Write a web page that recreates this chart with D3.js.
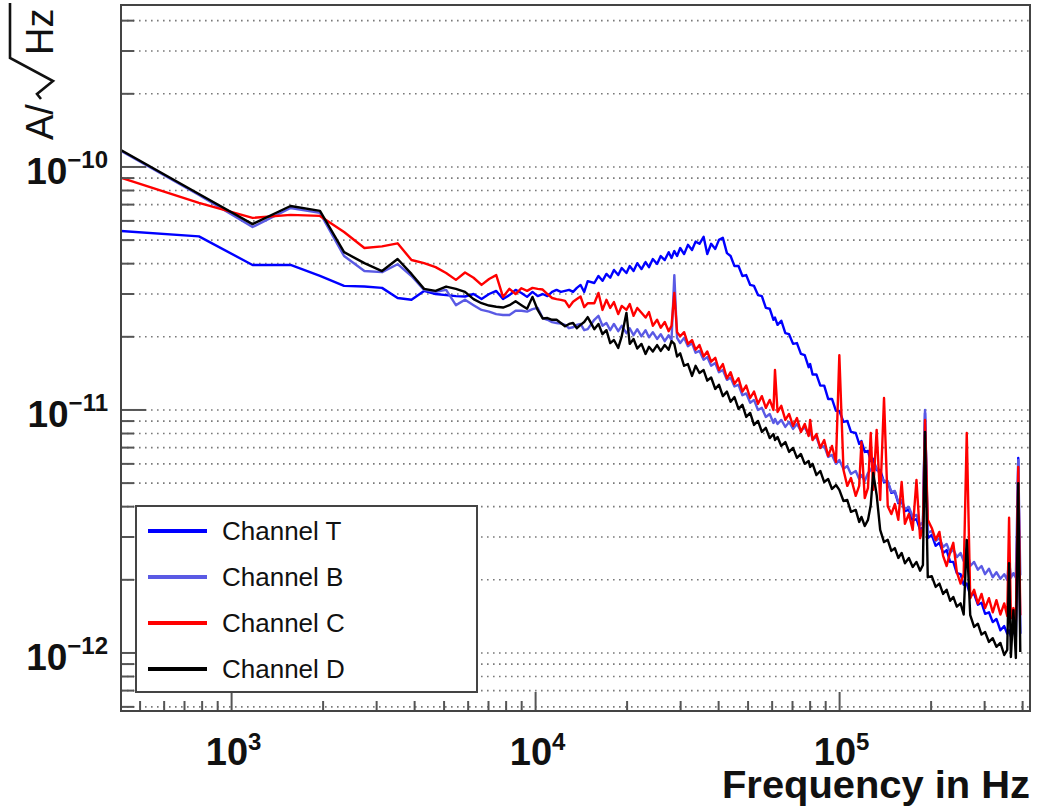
<!DOCTYPE html>
<meta charset="utf-8">
<style>
body { margin: 0; background: #fff; }
text { font-family: "Liberation Sans", Arial, Helvetica, sans-serif; fill: #111; }
</style>
<body>
<script src="https://d3js.org/d3.v7.min.js"></script>
<script>
// frequency of each point, in kHz
var freqKHz = [
  0.391, 0.781, 1.172, 1.563, 1.953, 2.344, 2.734, 3.125, 3.516, 3.906,
  4.297, 4.688, 5.078, 5.469, 5.859, 6.25, 6.641, 7.031, 7.422, 7.813,
  8.203, 8.594, 8.984, 9.375, 9.766, 10.16, 10.55, 10.94, 11.33, 11.72,
  12.11, 12.5, 12.89, 13.28, 13.67, 14.06, 14.45, 14.84,
  15.6, 16.1, 16.6, 17.1, 17.6, 18.1, 18.7, 19.2,
  19.9, 20.4, 21.0, 21.6, 22.3, 23.0, 23.6, 24.3, 25.1,
  25.8, 26.6, 27.4, 28.0, 28.6, 29.2, 29.9, 30.8, 31.7, 32.7,
  33.6, 34.6, 35.7, 36.7, 37.8, 39.0, 40.1, 41.3, 42.6, 43.8,
  45.1, 46.5, 47.9, 49.3, 50.8, 52.3, 53.9, 55.5, 57.2, 58.9,
  60.6, 61.3, 62.5, 64.3, 66.3, 68.2, 70.3, 72.4, 74.6, 76.8,
  79.1, 80.0, 81.5, 83.9, 86.4, 89.0, 91.7, 94.4, 97.3, 99.8,
  103, 106, 109, 113, 116, 118, 121, 124, 126.6, 129,
  132.4, 136, 140, 144, 148, 152, 156, 160, 164, 169,
  174, 179, 184, 188, 191, 195, 201, 207, 213, 219,
  225, 231, 236.6, 243, 250, 256, 262, 269, 277, 285,
  293, 301, 310, 319, 328, 338, 348, 356, 361, 366,
  373, 380, 387, 393
];

// amplitude spectral density, in units of 1e-12 A/sqrt(Hz)
var channelT = [
  55.0, 51.8, 39.5, 39.5, 35.6, 32.4, 32.2, 31.8, 28.9, 28.4,
  30.9, 30.0, 29.7, 29.4, 29.3, 30.0, 28.6, 30.0, 30.9, 28.6,
  29.7, 31.2, 30.3, 29.2, 30.6, 29.4, 30.0, 29.4, 30.6, 31.2,
  30.6, 30.9, 31.2, 30.6, 31.8, 32.7, 30.6, 33.9,
  33.3, 35.6, 34.0, 36.3, 35.0, 37.7, 35.9, 38.4,
  36.6, 39.1, 37.3, 40.2, 38.0, 40.6, 38.7, 41.8, 39.9,
  43.0, 41.4, 44.6, 42.2, 45.1, 43.0, 46.4, 43.8, 47.8, 45.5,
  49.3, 48.3, 51.6, 43.8, 48.3, 46.0, 50.1, 51.1, 44.2, 43.0,
  39.1, 39.1, 35.6, 35.9, 32.7, 32.4, 29.7, 29.4, 26.3, 26.1,
  23.5, 24.0, 22.4, 23.3, 20.7, 20.5, 18.7, 18.85, 17.0, 16.8,
  15.0, 15.45, 14.0, 14.0, 12.6, 12.6, 11.1, 11.1, 9.91, 9.91,
  8.93, 9.01, 8.12, 8.04, 7.25, 7.45, 6.72, 6.78, 6.17, 6.29,
  5.66, 5.66, 5.05, 5.05, 4.56, 4.60, 4.14, 4.22, 3.84, 3.88,
  3.50, 3.56, 3.21, 3.30, 9.72, 2.97, 3.06, 2.76, 2.84, 2.58,
  2.65, 2.37, 2.37, 2.13, 2.11, 1.91, 1.93, 1.73, 1.75, 1.58,
  1.61, 1.45, 1.47, 1.34, 1.38, 1.24, 1.29, 1.20, 1.24, 1.17,
  1.24, 1.16, 6.35, 1.20
];
var channelB = [
  125, 76.7, 56.6, 67.8, 64.7, 43.0, 37.3, 36.9, 39.8, 35.6,
  31.2, 30.6, 31.2, 27.0, 28.4, 27.0, 25.8, 25.4, 24.8, 24.6,
  24.6, 25.6, 25.6, 25.4, 26.0, 26.3, 23.9, 23.5, 23.0, 22.8,
  22.7, 22.4, 21.7, 21.9, 22.4, 22.6, 21.3, 21.5,
  23.5, 24.4, 22.2, 22.8, 21.3, 22.6, 21.1, 22.2,
  20.7, 21.7, 20.3, 21.5, 20.1, 21.3, 19.9, 20.9, 19.6,
  20.5, 19.2, 20.3, 19.4, 35.9, 19.8, 18.85, 19.8, 18.3, 18.85,
  17.2, 17.5, 16.1, 16.5, 15.2, 15.6, 14.3, 14.6, 13.3, 13.6,
  12.5, 12.7, 11.5, 11.7, 10.7, 11.0, 10.0, 10.2, 9.36, 9.63,
  8.84, 9.19, 8.76, 9.10, 8.52, 8.93, 8.36, 8.76, 8.20, 8.52,
  7.89, 8.20, 7.59, 7.74, 6.98, 7.11, 6.41, 6.53, 6.0, 6.23,
  5.72, 5.88, 5.45, 5.61, 5.20, 5.40, 5.10, 5.50, 5.66, 5.94,
  5.77, 5.40, 5.10, 5.10, 4.60, 4.64, 4.18, 4.26, 3.91, 3.99,
  3.63, 3.70, 3.36, 3.46, 10.0, 3.12, 3.18, 2.89, 2.97, 2.73,
  2.81, 2.58, 2.68, 2.48, 2.58, 2.39, 2.70, 2.28, 2.37, 2.20,
  2.28, 2.11, 2.22, 2.05, 2.15, 2.02, 2.11, 2.0, 2.41, 2.04,
  2.13, 2.04, 6.23, 2.09
];
var channelC = [
  94.1, 71.1, 61.7, 63.5, 62.9, 54.0, 46.4, 47.1, 48.5, 41.4,
  40.2, 38.7, 36.6, 34.3, 36.8, 35.0, 32.7, 34.6, 35.9, 29.2,
  31.5, 30.0, 31.7, 30.9, 31.8, 31.5, 31.3, 30.0, 28.9, 28.6,
  28.4, 28.1, 26.5, 27.9, 28.6, 29.3, 26.5, 27.5,
  27.5, 30.3, 25.8, 28.4, 26.3, 27.8, 24.8, 26.8,
  25.8, 27.3, 24.4, 26.3, 25.1, 24.0, 25.3, 22.2, 23.5,
  21.8, 23.0, 21.1, 22.2, 30.3, 20.9, 20.1, 20.9, 18.7, 19.4,
  17.7, 18.5, 16.6, 17.4, 15.8, 16.4, 14.6, 15.45, 13.5, 14.3,
  12.8, 13.5, 11.9, 12.6, 11.2, 11.9, 10.6, 11.4, 10.2, 11.0,
  10.0, 14.6, 9.81, 10.4, 9.10, 9.63, 8.60, 9.27, 8.12, 8.76,
  7.82, 9.10, 7.52, 7.96, 6.98, 7.52, 6.47, 7.11, 6.11, 16.8,
  5.66, 4.87, 5.25, 4.43, 4.87, 7.38, 4.34, 4.78, 8.04, 4.69,
  8.28, 4.26, 11.2, 4.02, 3.73, 4.10, 3.53, 5.05, 3.40, 3.73,
  3.21, 5.15, 2.97, 3.27, 9.10, 3.53, 3.27, 2.92, 3.15, 2.51,
  2.28, 2.60, 2.84, 2.15, 1.93, 2.11, 8.04, 1.68, 1.82, 1.60,
  1.75, 1.53, 1.68, 1.47, 1.65, 1.44, 1.60, 1.42, 3.60, 1.39,
  1.53, 1.34, 5.83, 1.43
];
var channelD = [
  126, 77.4, 58.2, 69.1, 66.0, 44.6, 40.2, 37.3, 41.8, 36.3,
  31.5, 30.9, 32.2, 31.5, 30.6, 28.6, 27.5, 26.9, 26.6, 26.4,
  27.0, 28.0, 27.0, 26.1, 29.2, 25.8, 23.8, 23.9, 23.5, 23.5,
  22.8, 22.1, 22.6, 22.8, 21.7, 22.4, 23.0, 24.1,
  21.5, 22.6, 20.5, 21.3, 18.85, 19.4, 18.0, 20.1,
  25.1, 18.7, 19.6, 17.9, 18.7, 17.0, 18.2, 17.4, 18.5,
  17.5, 18.5, 17.7, 19.2, 18.7, 16.6, 17.1, 15.2, 15.45, 13.8,
  15.2, 14.2, 14.6, 13.2, 13.6, 12.2, 12.7, 11.4, 11.9, 10.8,
  11.3, 10.1, 10.5, 9.36, 9.72, 8.68, 9.01, 8.12, 8.44, 7.66,
  7.96, 7.52, 7.74, 7.11, 7.38, 6.72, 6.98, 6.35, 6.59, 6.0,
  6.17, 5.83, 6.0, 5.40, 5.61, 5.05, 5.2, 4.73, 4.91, 4.69,
  4.22, 4.26, 3.81, 3.88, 3.46, 3.63, 3.33, 3.53, 4.06, 5.5,
  4.47, 3.21, 2.86, 2.92, 2.63, 2.70, 2.46, 2.58, 2.34, 2.46,
  2.26, 2.37, 2.18, 2.30, 8.12, 2.05, 2.07, 1.87, 1.93, 1.75,
  1.82, 1.64, 1.70, 1.55, 1.60, 1.44, 2.92, 1.43, 1.28, 1.32,
  1.19, 1.22, 1.11, 1.15, 1.06, 1.10, 0.981, 1.03, 2.34, 0.963,
  1.50, 0.954, 5.0, 1.01
];

var channelNames = ["Channel T", "Channel B", "Channel C", "Channel D"];
var channelColors = ["#0000ff", "#5a5ae4", "#ff0000", "#000000"];
var xTickPowers = [3, 4, 5];        // labelled decades, Hz
var yTickPowers = [-12, -11, -10];  // labelled decades, A/sqrt(Hz)

// frame of the plot
var frame = {left: 121, right: 1030, top: 5, bottom: 711};

var svg = d3.select("body").append("svg")
    .attr("width", 1037)
    .attr("height", 808);

var x = d3.scaleLog().domain([432.7, 423000]).range([frame.left, frame.right]);
var y = d3.scaleLog().domain([5.77e-13, 4.64e-10]).range([frame.bottom, frame.top]);

function isDecade(v) {
  var l = Math.log10(v);
  return Math.abs(l - Math.round(l)) < 1e-6;
}

// horizontal dotted grid at every y tick
svg.append("g").selectAll("line")
    .data(y.ticks())
  .enter().append("line")
    .attr("x1", frame.left).attr("x2", frame.right)
    .attr("y1", function(d) { return y(d); })
    .attr("y2", function(d) { return y(d); })
    .attr("stroke", "#7a7a7a")
    .attr("stroke-width", 1.6)
    .attr("stroke-dasharray", "1.6,4.4");

// clip for the curves
svg.append("clipPath").attr("id", "clip")
  .append("rect")
    .attr("x", frame.left).attr("y", frame.top)
    .attr("width", frame.right - frame.left)
    .attr("height", frame.bottom - frame.top);

var line = d3.line()
    .x(function(d) { return x(d[0] * 1e3); })
    .y(function(d) { return y(d[1] * 1e-12); });

var series = [channelT, channelB, channelC, channelD];
series.forEach(function(vals, i) {
  var pts = freqKHz.map(function(f, j) { return [f, vals[j]]; });
  svg.append("path")
      .attr("d", line(pts))
      .attr("fill", "none")
      .attr("stroke", channelColors[i])
      .attr("stroke-width", 2.4)
      .attr("stroke-linejoin", "round")
      .attr("clip-path", "url(#clip)");
});

// y ticks (left)
svg.append("g").selectAll("line")
    .data(y.ticks())
  .enter().append("line")
    .attr("x1", frame.left)
    .attr("x2", function(d) { return frame.left + (isDecade(d) ? 25 : 13); })
    .attr("y1", function(d) { return y(d); })
    .attr("y2", function(d) { return y(d); })
    .attr("stroke", "#555")
    .attr("stroke-width", 2);

// x ticks (bottom)
svg.append("g").selectAll("line")
    .data(x.ticks())
  .enter().append("line")
    .attr("x1", function(d) { return x(d); })
    .attr("x2", function(d) { return x(d); })
    .attr("y1", frame.bottom)
    .attr("y2", function(d) { return frame.bottom - (isDecade(d) ? 19 : 10); })
    .attr("stroke", "#555")
    .attr("stroke-width", 2);

// frame
svg.append("rect")
    .attr("x", frame.left).attr("y", frame.top)
    .attr("width", frame.right - frame.left)
    .attr("height", frame.bottom - frame.top)
    .attr("fill", "none")
    .attr("stroke", "#444")
    .attr("stroke-width", 2);

function sup(p) { return String(p).replace("-", "\u2212"); }

// y tick labels
yTickPowers.forEach(function(p) {
  var t = svg.append("text")
      .attr("x", 108)
      .attr("y", y(Math.pow(10, p)) + 17)
      .attr("text-anchor", "end")
      .attr("font-weight", "bold")
      .attr("font-size", 37);
  t.append("tspan").text("10");
  t.append("tspan").attr("dy", -16).attr("font-size", 24).text(sup(p));
});

// x tick labels
xTickPowers.forEach(function(p) {
  var t = svg.append("text")
      .attr("x", x(Math.pow(10, p)) + 2)
      .attr("y", 765)
      .attr("text-anchor", "middle")
      .attr("font-weight", "bold")
      .attr("font-size", 38);
  t.append("tspan").text("10");
  t.append("tspan").attr("dy", -15).attr("font-size", 24).text(sup(p));
});

// x axis title
svg.append("text")
    .attr("x", 1030)
    .attr("y", 798)
    .attr("text-anchor", "end")
    .attr("font-weight", "bold")
    .attr("font-size", 38)
    .attr("textLength", 308)
    .attr("lengthAdjust", "spacingAndGlyphs")
    .text("Frequency in Hz");

// y axis title  A/sqrt(Hz)
var yt = svg.append("g").attr("transform", "translate(53,140) rotate(-90)");
yt.append("text").attr("x", 0).attr("y", 0).attr("font-size", 38).text("A/");
yt.append("path")
    .attr("d", "M41,-12 L46,-16 L59,0 L82,-43 L137,-43")
    .attr("fill", "none")
    .attr("stroke", "#111")
    .attr("stroke-width", 2.6)
    .attr("stroke-linejoin", "miter");
yt.append("text").attr("x", 85).attr("y", 0).attr("font-size", 38).text("Hz");

// legend
var legend = svg.append("g");
legend.append("rect")
    .attr("x", 136).attr("y", 506)
    .attr("width", 341).attr("height", 186)
    .attr("fill", "#fff")
    .attr("stroke", "#444")
    .attr("stroke-width", 2);
channelNames.forEach(function(name, i) {
  var ly = 531 + i * 46;
  legend.append("line")
      .attr("x1", 148).attr("x2", 207)
      .attr("y1", ly).attr("y2", ly)
      .attr("stroke", channelColors[i])
      .attr("stroke-width", 4);
  legend.append("text")
      .attr("x", 222)
      .attr("y", ly + 9)
      .attr("font-size", 26)
      .attr("fill", "#222")
      .text(name);
});
</script>
</body>
